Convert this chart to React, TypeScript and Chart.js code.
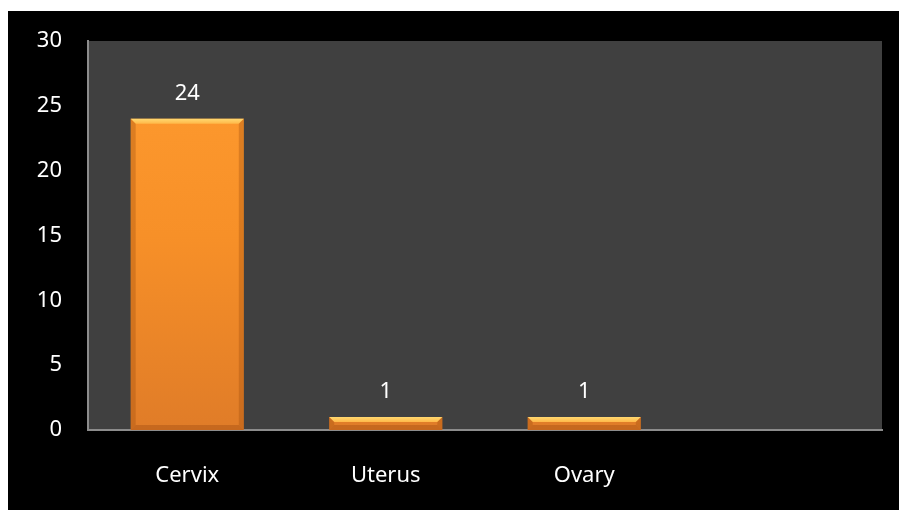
import React, { useEffect, useRef } from "react";
import { Chart, registerables } from "chart.js";

Chart.register(...registerables);

const categories = ["Cervix", "Uterus", "Ovary", ""];
const counts = [24, 1, 1, null];
const yTicks = [0, 5, 10, 15, 20, 25, 30];

const FONT = "'Noto Sans', 'Open Sans', sans-serif";

const plotBg = {
  id: "plotBg",
  beforeDraw(chart: any) {
    const { ctx, chartArea } = chart;
    ctx.save();
    ctx.fillStyle = "#404040";
    ctx.fillRect(chartArea.left, chartArea.top, chartArea.right - chartArea.left, chartArea.bottom - chartArea.top);
    ctx.restore();
  },
};

const bevel = {
  id: "bevel",
  afterDatasetsDraw(chart: any) {
    const { ctx } = chart;
    const meta = chart.getDatasetMeta(0);
    ctx.save();
    meta.data.forEach((bar: any, i: number) => {
      const v = counts[i];
      if (v == null) return;
      const { x, y, base, width } = bar.getProps(["x", "y", "base", "width"], true);
      const l = x - width / 2;
      const r = x + width / 2;
      const h = base - y;
      const b = Math.min(5, h / 2.5);
      const tg = ctx.createLinearGradient(0, y, 0, y + b);
      tg.addColorStop(0, "#FFD870");
      tg.addColorStop(1, "#FFB848");
      ctx.fillStyle = tg;
      ctx.beginPath();
      ctx.moveTo(l, y);
      ctx.lineTo(r, y);
      ctx.lineTo(r - b, y + b);
      ctx.lineTo(l + b, y + b);
      ctx.closePath();
      ctx.fill();
      ctx.fillStyle = "rgba(150,70,10,0.3)";
      ctx.beginPath();
      ctx.moveTo(l, y);
      ctx.lineTo(l + b, y + b);
      ctx.lineTo(l + b, base - b);
      ctx.lineTo(l, base);
      ctx.closePath();
      ctx.fill();
      ctx.beginPath();
      ctx.moveTo(r, y);
      ctx.lineTo(r - b, y + b);
      ctx.lineTo(r - b, base - b);
      ctx.lineTo(r, base);
      ctx.closePath();
      ctx.fill();
      ctx.fillStyle = "rgba(140,60,10,0.3)";
      ctx.beginPath();
      ctx.moveTo(l, base);
      ctx.lineTo(l + b, base - b);
      ctx.lineTo(r - b, base - b);
      ctx.lineTo(r, base);
      ctx.closePath();
      ctx.fill();
      ctx.fillStyle = "#ffffff";
      ctx.font = `22px ${FONT}`;
      ctx.textAlign = "center";
      ctx.textBaseline = "bottom";
      ctx.fillText(String(v), x, y - 14);
    });
    ctx.restore();
  },
};

export default function App() {
  const ref = useRef<HTMLCanvasElement>(null);
  useEffect(() => {
    const canvas = ref.current!;
    const chart = new Chart(canvas, {
      type: "bar",
      data: {
        labels: categories,
        datasets: [
          {
            data: counts as any,
            backgroundColor: (c: any) => {
              const { ctx, chartArea } = c.chart;
              if (!chartArea) return "#F08A28";
              const g = ctx.createLinearGradient(0, chartArea.top, 0, chartArea.bottom);
              g.addColorStop(0, "#FF9C30");
              g.addColorStop(0.5, "#F79028");
              g.addColorStop(1, "#E07C28");
              return g;
            },
            borderWidth: 0,
            categoryPercentage: 1,
            barPercentage: 0.57,
          },
        ],
      },
      options: {
        animation: false,
        responsive: false,
        maintainAspectRatio: false,
        layout: { padding: { top: 30, right: 17, left: 0, bottom: 0 } },
        plugins: { legend: { display: false }, tooltip: { enabled: false } },
        scales: {
          x: {
            grid: { display: false, drawTicks: false },
            border: { display: true, color: "#8c8c8c", width: 2 },
            ticks: { color: "#ffffff", font: { size: 22, family: FONT }, padding: 33 },
            afterFit: (s: any) => { s.height = 80; s.paddingLeft = 0; s.paddingRight = 0; },
          },
          y: {
            min: 0,
            max: 30,
            afterBuildTicks: (s: any) => { s.ticks = yTicks.map((v) => ({ value: v })); },
            grid: { display: false, drawTicks: false },
            border: { display: true, color: "#8c8c8c", width: 2 },
            ticks: { color: "#ffffff", font: { size: 22, family: FONT }, padding: 26 },
            afterFit: (s: any) => { s.width = 80; s.paddingTop = 0; s.paddingBottom = 0; },
          },
        },
      },
      plugins: [plotBg, bevel],
    });
    return () => chart.destroy();
  }, []);
  return (
    <div style={{ position: "fixed", left: 8, top: 11, width: 891, height: 499, background: "#000" }}>
      <canvas ref={ref} width={891} height={499} style={{ display: "block" }} />
    </div>
  );
}
